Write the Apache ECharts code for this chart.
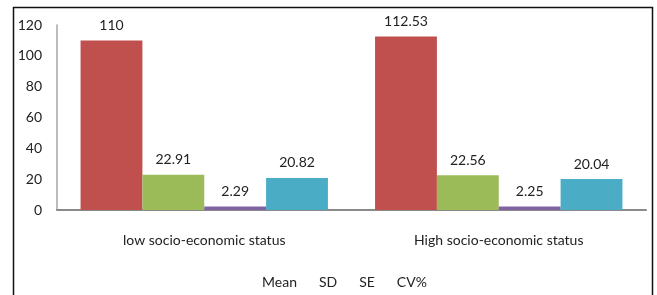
<!DOCTYPE html>
<html>
<head>
<meta charset="utf-8">
<script src="https://cdn.jsdelivr.net/npm/echarts@6/dist/echarts.min.js"></script>
<style>
  html, body { margin: 0; padding: 0; background: #fff; }
  #main { width: 657px; height: 295px; }
</style>
</head>
<body>
<div id="main"></div>
<script>
var categories = ['low socio-economic status', 'High socio-economic status'];
var meanValues = [110, 112.53];
var sdValues = [22.91, 22.56];
var seValues = [2.29, 2.25];
var cvValues = [20.82, 20.04];
var yTicks = [0, 20, 40, 60, 80, 100, 120];

var chart = echarts.init(document.getElementById('main'));
var font = 'Lato, "Open Sans", sans-serif';

function makeSeries(name, data, color) {
    return {
        name: name,
        type: 'bar',
        data: data,
        barGap: 0,
        barCategoryGap: '16%',
        itemStyle: { color: color },
        label: {
            show: true,
            position: 'top',
            distance: 8,
            color: '#222',
            fontSize: 14,
            fontFamily: font,
            formatter: function (p) { return String(p.value); }
        }
    };
}

var option = {
    animation: false,
    grid: { left: 57, right: 11, top: 25, bottom: 85 },
    legend: {
        top: 275,
        left: 257,
        padding: 0,
        itemWidth: 0,
        itemHeight: 0,
        itemGap: 17,
        icon: 'rect',
        textStyle: { fontSize: 14, fontFamily: font, color: '#222' },
        data: ['Mean', 'SD', 'SE', 'CV%']
    },
    xAxis: {
        type: 'category',
        data: categories,
        axisLine: { lineStyle: { color: '#8a8a8a', width: 2 } },
        axisTick: { show: false },
        axisLabel: { margin: 23, fontSize: 14, color: '#222', fontFamily: font }
    },
    yAxis: {
        type: 'value',
        min: yTicks[0],
        max: yTicks[yTicks.length - 1],
        interval: 20,
        splitLine: { show: false },
        axisLine: { show: true, lineStyle: { color: '#a6a6a6', width: 1.5 } },
        axisTick: { show: false },
        axisLabel: { margin: 15, fontSize: 14, color: '#222', fontFamily: font }
    },
    graphic: [{
        type: 'rect',
        shape: { x: 13.5, y: 7.5, width: 639, height: 300 },
        style: { fill: 'none', stroke: '#111', lineWidth: 1.5 },
        silent: true
    }],
    series: [
        makeSeries('Mean', meanValues, '#C0504D'),
        makeSeries('SD', sdValues, '#9BBB59'),
        makeSeries('SE', seValues, '#8064A2'),
        makeSeries('CV%', cvValues, '#4BACC6')
    ]
};

chart.setOption(option);
</script>
</body>
</html>
